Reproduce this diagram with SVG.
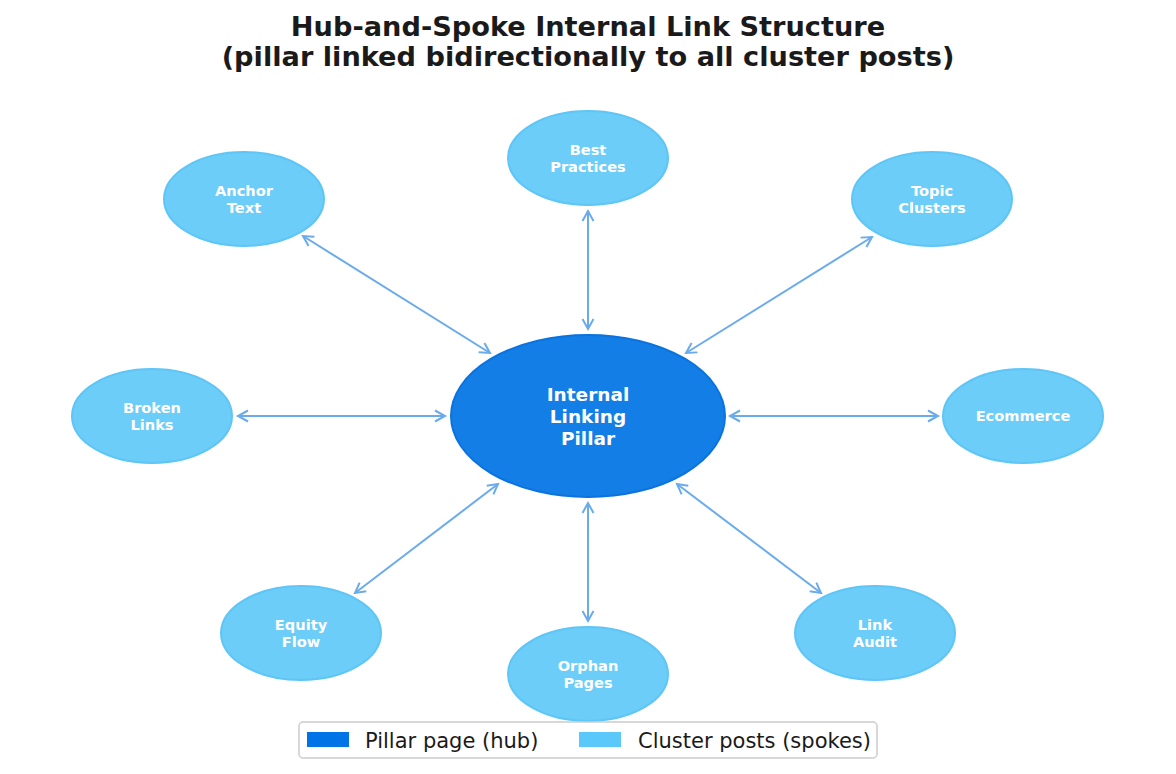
<svg xmlns="http://www.w3.org/2000/svg" width="1176" height="774" viewBox="0 0 1176 774">
<style>
.title{font-family:"DejaVu Sans",sans-serif;font-weight:bold;font-size:27.2px;fill:#1a1a1a;text-anchor:middle}
.spoke ellipse{fill:#6bcdf8;stroke:#5ec5f7;stroke-width:2}
.spoke text{font-family:"DejaVu Sans",sans-serif;font-weight:bold;font-size:14.6px;fill:#ffffff;text-anchor:middle}
.hub ellipse{fill:#137ee5;stroke:#0a73e0;stroke-width:2}
.hub text{font-family:"DejaVu Sans",sans-serif;font-weight:bold;font-size:18.5px;fill:#ffffff;text-anchor:middle}
.conn line{stroke:#6aabeb;stroke-width:2;marker-start:url(#ah);marker-end:url(#ah)}
.leg{font-family:"DejaVu Sans",sans-serif;font-size:21px;fill:#1a1a1a}
</style>
<defs>
<marker id="ah" markerUnits="userSpaceOnUse" markerWidth="16" markerHeight="16" viewBox="-12 -8 14 16" refX="0" refY="0" orient="auto-start-reverse">
<path d="M-10,-5.5 L0,0 L-10,5.5" fill="none" stroke="#6aabeb" stroke-width="2" stroke-linejoin="miter"/>
</marker>
</defs>
<rect width="1176" height="774" fill="#ffffff"/>
<text class="title" x="588" y="36">Hub-and-Spoke Internal Link Structure</text>
<text class="title" x="588" y="66">(pillar linked bidirectionally to all cluster posts)</text>
<g id="connectors" class="conn">
<line x1="303" y1="236" x2="490" y2="353"/>
<line x1="588" y1="211" x2="588" y2="329"/>
<line x1="872" y1="237" x2="686" y2="353"/>
<line x1="730" y1="416" x2="938" y2="416"/>
<line x1="677" y1="484" x2="821" y2="593"/>
<line x1="588" y1="503" x2="588" y2="621"/>
<line x1="355" y1="593" x2="498" y2="484"/>
<line x1="238" y1="416" x2="445" y2="416"/>
</g>
<g id="hub" class="hub">
<ellipse cx="588" cy="416" rx="137" ry="81"/>
<text x="588" y="401">Internal</text>
<text x="588" y="423">Linking</text>
<text x="588" y="445">Pillar</text>
</g>
<g id="best-practices" class="spoke">
<ellipse cx="588" cy="158" rx="80" ry="47"/>
<text x="588" y="155">Best</text>
<text x="588" y="172">Practices</text>
</g>
<g id="topic-clusters" class="spoke">
<ellipse cx="932" cy="199" rx="80" ry="47"/>
<text x="932" y="196">Topic</text>
<text x="932" y="213">Clusters</text>
</g>
<g id="ecommerce" class="spoke">
<ellipse cx="1023" cy="416" rx="80" ry="47"/>
<text x="1023" y="421">Ecommerce</text>
</g>
<g id="link-audit" class="spoke">
<ellipse cx="875" cy="633" rx="80" ry="47"/>
<text x="875" y="630">Link</text>
<text x="875" y="647">Audit</text>
</g>
<g id="orphan-pages" class="spoke">
<ellipse cx="588" cy="674" rx="80" ry="47"/>
<text x="588" y="671">Orphan</text>
<text x="588" y="688">Pages</text>
</g>
<g id="equity-flow" class="spoke">
<ellipse cx="301" cy="633" rx="80" ry="47"/>
<text x="301" y="630">Equity</text>
<text x="301" y="647">Flow</text>
</g>
<g id="broken-links" class="spoke">
<ellipse cx="152" cy="416" rx="80" ry="47"/>
<text x="152" y="413">Broken</text>
<text x="152" y="430">Links</text>
</g>
<g id="anchor-text" class="spoke">
<ellipse cx="244" cy="199" rx="80" ry="47"/>
<text x="244" y="196">Anchor</text>
<text x="244" y="213">Text</text>
</g>
<g id="legend">
<rect x="299" y="722" width="578" height="36" rx="4" fill="#ffffff" fill-opacity="0.8" stroke="#cccccc" stroke-width="1.5"/>
<rect x="307" y="732" width="42" height="15" fill="#0073e6"/>
<text class="leg" x="365" y="748">Pillar page (hub)</text>
<rect x="579" y="732" width="42" height="15" fill="#5bc8fa"/>
<text class="leg" x="638" y="748">Cluster posts (spokes)</text>
</g>
</svg>
